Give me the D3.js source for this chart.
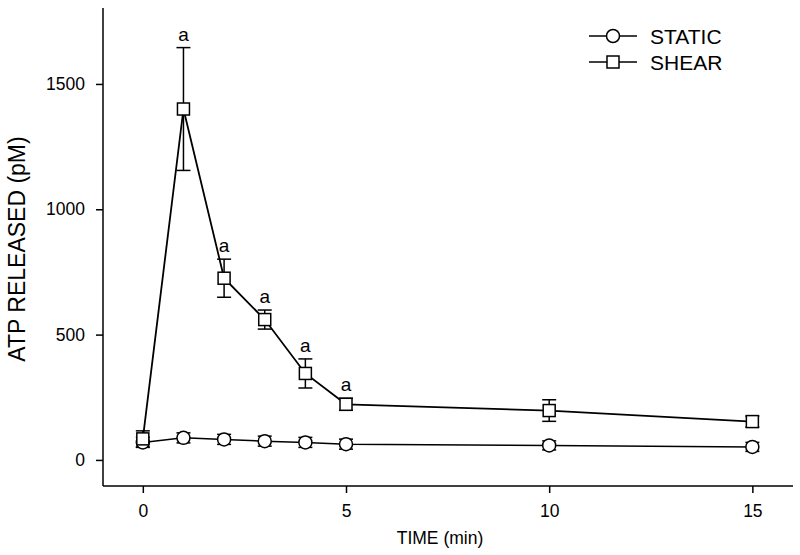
<!DOCTYPE html>
<html>
<head>
<meta charset="utf-8">
<script src="https://cdn.jsdelivr.net/npm/d3@7"></script>
<style>
  body { margin: 0; background: #fff; }
  svg { display: block; font-family: "Liberation Sans", Arial, sans-serif; }
</style>
</head>
<body>
<svg id="chart" width="800" height="555"></svg>
<script>
// ---- Data ----
const times = [0, 1, 2, 3, 4, 5, 10, 15];
const staticMean = [70, 88, 82, 75, 70, 63, 58, 52];
const staticErr  = [20, 20, 20, 20, 20, 20, 18, 18];
const shearMean  = [84, 1400, 725, 560, 345, 222, 197, 153];
const shearErr   = [32, 245, 76, 38, 58, 24, 43, 22];
const sigTimes   = [1, 2, 3, 4, 5];
const xTicks = [0, 5, 10, 15];
const yTicks = [0, 500, 1000, 1500];
const seriesNames = ["STATIC", "SHEAR"];

// ---- Layout ----
const svg = d3.select("#chart");
const mLeft = 103, mRight = 793, mTop = 8, mBottom = 486;

const x = d3.scaleLinear().domain([-0.98, 16]).range([mLeft, mRight]);
const y = d3.scaleLinear().domain([-104, 1803]).range([mBottom, mTop]);

// Axes
const xAxis = d3.axisBottom(x).tickValues(xTicks).tickSize(7).tickPadding(12).tickFormat(d3.format("d"));
const yAxis = d3.axisLeft(y).tickValues(yTicks).tickSize(7).tickPadding(11).tickFormat(d3.format("d"));

const gx = svg.append("g").attr("transform", `translate(0,${mBottom})`).call(xAxis);
const gy = svg.append("g").attr("transform", `translate(${mLeft},0)`).call(yAxis);
[gx, gy].forEach(g => {
  g.select(".domain").attr("stroke", "#000").attr("stroke-width", 1.5);
  g.selectAll(".tick line").attr("stroke", "#000").attr("stroke-width", 1.5);
  g.selectAll(".tick text").attr("fill", "#000").attr("font-size", 17.5)
    .attr("font-family", "'Liberation Sans', Arial, sans-serif");
});
gx.select(".domain").attr("d", `M${mLeft},0H${mRight}`);
gy.select(".domain").attr("d", `M0,${mTop}V${mBottom}`);

// Axis titles
svg.append("text").attr("x", 440).attr("y", 544).attr("text-anchor", "middle")
  .attr("font-size", 17.5).text("TIME (min)");
svg.append("text").attr("transform", `translate(25,249) rotate(-90)`)
  .attr("text-anchor", "middle").attr("font-size", 23).text("ATP RELEASED (pM)");

// Series data
const staticData = times.map((t, i) => ({t, m: staticMean[i], e: staticErr[i]}));
const shearData = times.map((t, i) => ({t, m: shearMean[i], e: shearErr[i]}));

const line = d3.line().x(d => x(d.t)).y(d => y(d.m));
const capW = 7;

function drawErr(data) {
  const g = svg.append("g").attr("stroke", "#000").attr("stroke-width", 1.5);
  data.forEach(d => {
    g.append("line").attr("x1", x(d.t)).attr("x2", x(d.t)).attr("y1", y(d.m + d.e)).attr("y2", y(d.m - d.e));
    g.append("line").attr("x1", x(d.t) - capW).attr("x2", x(d.t) + capW).attr("y1", y(d.m + d.e)).attr("y2", y(d.m + d.e));
    g.append("line").attr("x1", x(d.t) - capW).attr("x2", x(d.t) + capW).attr("y1", y(d.m - d.e)).attr("y2", y(d.m - d.e));
  });
}

drawErr(staticData);
drawErr(shearData);

svg.append("path").datum(staticData).attr("d", line).attr("fill", "none")
  .attr("stroke", "#000").attr("stroke-width", 1.5);
svg.append("path").datum(shearData).attr("d", line).attr("fill", "none")
  .attr("stroke", "#000").attr("stroke-width", 1.8);

// Markers
svg.append("g").selectAll("circle").data(staticData).join("circle")
  .attr("cx", d => x(d.t)).attr("cy", d => y(d.m)).attr("r", 6.5)
  .attr("fill", "#fff").attr("stroke", "#000").attr("stroke-width", 1.5);
const sq = 12;
svg.append("g").selectAll("rect").data(shearData).join("rect")
  .attr("x", d => x(d.t) - sq / 2).attr("y", d => y(d.m) - sq / 2)
  .attr("width", sq).attr("height", sq)
  .attr("fill", "#fff").attr("stroke", "#000").attr("stroke-width", 1.5);

// Significance labels
svg.append("g").selectAll("text").data(shearData.filter(d => sigTimes.includes(d.t))).join("text")
  .attr("x", d => x(d.t)).attr("y", d => y(d.m + d.e) - 7)
  .attr("text-anchor", "middle").attr("font-size", 19).text("a");

// Legend
const legend = svg.append("g");
seriesNames.forEach((name, i) => {
  const ly = 36 + i * 26;
  legend.append("line").attr("x1", 589).attr("x2", 637).attr("y1", ly).attr("y2", ly)
    .attr("stroke", "#000").attr("stroke-width", 1.5);
  if (i === 0) {
    legend.append("circle").attr("cx", 613).attr("cy", ly).attr("r", 6.5)
      .attr("fill", "#fff").attr("stroke", "#000").attr("stroke-width", 1.5);
  } else {
    legend.append("rect").attr("x", 613 - sq / 2).attr("y", ly - sq / 2).attr("width", sq).attr("height", sq)
      .attr("fill", "#fff").attr("stroke", "#000").attr("stroke-width", 1.5);
  }
  legend.append("text").attr("x", 650).attr("y", ly).attr("dy", "0.36em")
    .attr("font-size", 21).text(name);
});
</script>
</body>
</html>
